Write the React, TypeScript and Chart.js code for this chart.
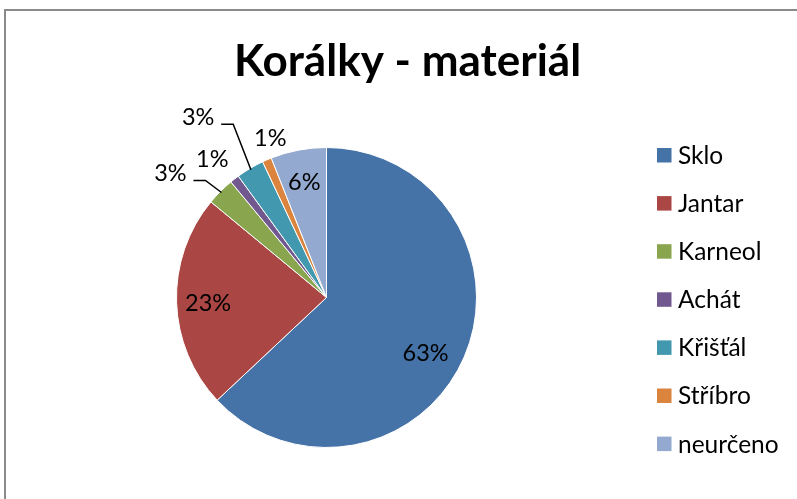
import React, { useEffect, useRef } from "react";
import Chart from "chart.js/auto";

const title = "Korálky - materiál";
const categories = ["Sklo", "Jantar", "Karneol", "Achát", "Křišťál", "Stříbro", "neurčeno"];
const values = [63, 23, 3, 1, 3, 1, 6];
const percentLabels = ["63%", "23%", "3%", "1%", "3%", "1%", "6%"];
const colors = ["#4572A7", "#AA4643", "#89A54E", "#71588F", "#4198AF", "#DB843D", "#93A9CF"];

// label placement: radius factor, angle offset in degrees, leader line
const labelPlacement = [
  { r: 0.755, da: 5.6, leader: false },
  { r: 0.79, da: -0.5, leader: false },
  { r: 1.333, da: -6.3, leader: true },
  { r: 1.2, da: -1.6, leader: false },
  { r: 1.48, da: -4.7, leader: true },
  { r: 1.133, da: 4.1, leader: false },
  { r: 0.79, da: 0, leader: false },
];

const FONT = "Lato, 'Open Sans', sans-serif";

const decorPlugin = {
  id: "decor",
  beforeDraw(chart: any) {
    const ctx = chart.ctx;
    ctx.save();
    ctx.fillStyle = "#ffffff";
    ctx.fillRect(0, 0, chart.width, chart.height);
    ctx.strokeStyle = "#8a8a8a";
    ctx.lineWidth = 2;
    ctx.strokeRect(5, 10, chart.width + 20, chart.height + 20);
    ctx.restore();
  },
  afterDraw(chart: any) {
    const ctx = chart.ctx;
    const meta = chart.getDatasetMeta(0);
    ctx.save();
    // title
    ctx.fillStyle = "#000000";
    ctx.font = `bold 44px ${FONT}`;
    ctx.textAlign = "center";
    ctx.textBaseline = "alphabetic";
    ctx.fillText(title, 407.5, 76);

    // data labels
    ctx.font = `23.5px ${FONT}`;
    ctx.textBaseline = "middle";
    meta.data.forEach((arc: any, i: number) => {
      const p = arc.getProps(["x", "y", "startAngle", "endAngle", "outerRadius"], true);
      const mid = (p.startAngle + p.endAngle) / 2;
      const pl = labelPlacement[i];
      const a = mid + (pl.da * Math.PI) / 180;
      const lx = p.x + Math.cos(a) * p.outerRadius * pl.r;
      const ly = p.y + Math.sin(a) * p.outerRadius * pl.r;
      ctx.fillStyle = "#000000";
      ctx.fillText(percentLabels[i], lx, ly + 1);
      if (pl.leader) {
        const ex = p.x + Math.cos(mid) * p.outerRadius * 0.99;
        const ey = p.y + Math.sin(mid) * p.outerRadius * 0.99;
        const sx = lx + 23;
        const sy = ly + 8;
        ctx.strokeStyle = "#000000";
        ctx.lineWidth = 1.5;
        ctx.beginPath();
        ctx.moveTo(sx, sy);
        ctx.lineTo(sx + 12, sy);
        ctx.lineTo(ex, ey);
        ctx.stroke();
      }
    });

    // legend
    ctx.textAlign = "left";
    ctx.font = `24.5px ${FONT}`;
    categories.forEach((c, i) => {
      const cy = 155 + i * 48.1;
      ctx.fillStyle = colors[i];
      ctx.fillRect(657, cy - 7, 14.5, 14.5);
      ctx.fillStyle = "#000000";
      ctx.fillText(c, 678, cy + 1);
    });
    ctx.restore();
  },
};

export default function App() {
  const ref = useRef<HTMLCanvasElement>(null);
  useEffect(() => {
    if (!ref.current) return;
    const chart = new Chart(ref.current, {
      type: "pie",
      data: {
        labels: categories,
        datasets: [
          {
            data: values,
            backgroundColor: colors,
            borderColor: "#ffffff",
            borderWidth: 1,
          },
        ],
      },
      options: {
        animation: false,
        responsive: false,
        layout: { padding: { top: 147, bottom: 51, left: 176, right: 320 } },
        plugins: {
          legend: { display: false },
          tooltip: { enabled: false },
        },
      },
      plugins: [decorPlugin],
    });
    return () => chart.destroy();
  }, []);
  return (
    <div style={{ position: "absolute", left: 0, top: 0, width: 797, height: 499 }}>
      <canvas ref={ref} width={797} height={499} style={{ width: 797, height: 499, display: "block" }} />
    </div>
  );
}
